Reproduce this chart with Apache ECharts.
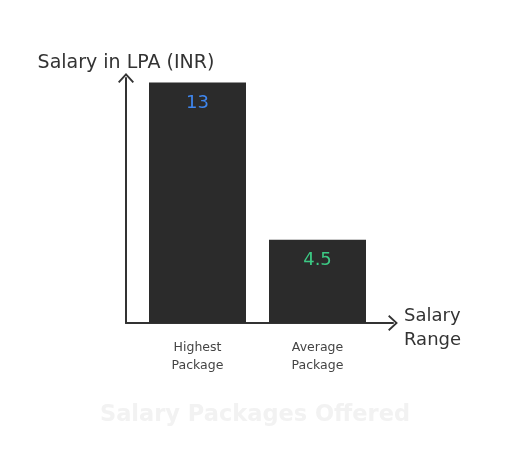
<!DOCTYPE html>
<html>
<head>
<meta charset="utf-8">
<script src="https://cdn.jsdelivr.net/npm/echarts@6/dist/echarts.min.js"></script>
<style>
  html, body { margin: 0; padding: 0; background: #fff; }
  #chart { width: 510px; height: 453px; }
</style>
</head>
<body>
<div id="chart"></div>
<script>
const categories = ['Highest\nPackage', 'Average\nPackage']
const salaries = [13, 4.5]
const labelColors = ['#3f86ee', '#3cc984']

const font = 'DejaVu Sans'
const ink = '#333333'
// open chevron pointing up, used as axis arrow head
const chevron = 'path://M0,8.6 L8,0 L16,8.6 L14.6,9.8 L8,2.7 L1.4,9.8 Z'

const myChart = echarts.init(document.getElementById('chart'))

const option = {
    animation: false,
    title: {
        text: 'Salary Packages Offered',
        left: 'center',
        top: 399,
        textStyle: { fontFamily: font, fontSize: 22.5, fontWeight: 'bold', color: '#f2f2f2' }
    },
    grid: [
        // bars
        { left: 137.5, right: 132.5, top: 78, bottom: 130 },
        // axis lines with arrows
        { left: 126, right: 117, top: 78, bottom: 130 }
    ],
    xAxis: [
        {
            type: 'category',
            gridIndex: 0,
            data: categories,
            axisLine: { show: false },
            axisTick: { show: false },
            axisLabel: {
                margin: 16,
                fontFamily: font,
                fontSize: 12.5,
                lineHeight: 18,
                color: '#444'
            }
        },
        {
            type: 'value',
            gridIndex: 1,
            min: 0,
            max: 1,
            name: '{pad|}\n{t|Salary}\n{t|Range}',
            nameLocation: 'end',
            nameGap: 11,
            nameTextStyle: {
                align: 'left',
                verticalAlign: 'middle',
                rich: {
                    pad: { lineHeight: 10, fontSize: 10 },
                    t: { fontFamily: font, fontSize: 18, lineHeight: 24, color: ink }
                }
            },
            axisLine: {
                lineStyle: { color: ink, width: 2 },
                symbol: ['none', chevron],
                symbolSize: [16, 10]
            },
            axisTick: { show: false },
            axisLabel: { show: false },
            splitLine: { show: false }
        }
    ],
    yAxis: [
        {
            type: 'value',
            gridIndex: 0,
            min: 0,
            max: 13.25,
            show: false
        },
        {
            type: 'value',
            gridIndex: 1,
            min: 0,
            max: 1,
            name: 'Salary in LPA (INR)',
            nameLocation: 'end',
            nameGap: 5,
            nameTextStyle: { fontFamily: font, fontSize: 19, color: ink, align: 'center' },
            axisLine: {
                show: true,
                lineStyle: { color: ink, width: 2 },
                symbol: ['none', chevron],
                symbolSize: [16, 10]
            },
            axisTick: { show: false },
            axisLabel: { show: false },
            splitLine: { show: false }
        }
    ],
    series: [
        {
            type: 'bar',
            xAxisIndex: 0,
            yAxisIndex: 0,
            barWidth: 97,
            data: salaries.map((v, i) => ({
                value: v,
                label: { color: labelColors[i] }
            })),
            itemStyle: { color: '#2b2b2b' },
            label: {
                show: true,
                position: 'insideTop',
                distance: 12,
                fontFamily: font,
                fontSize: 18
            }
        }
    ]
}

myChart.setOption(option)
</script>
</body>
</html>
